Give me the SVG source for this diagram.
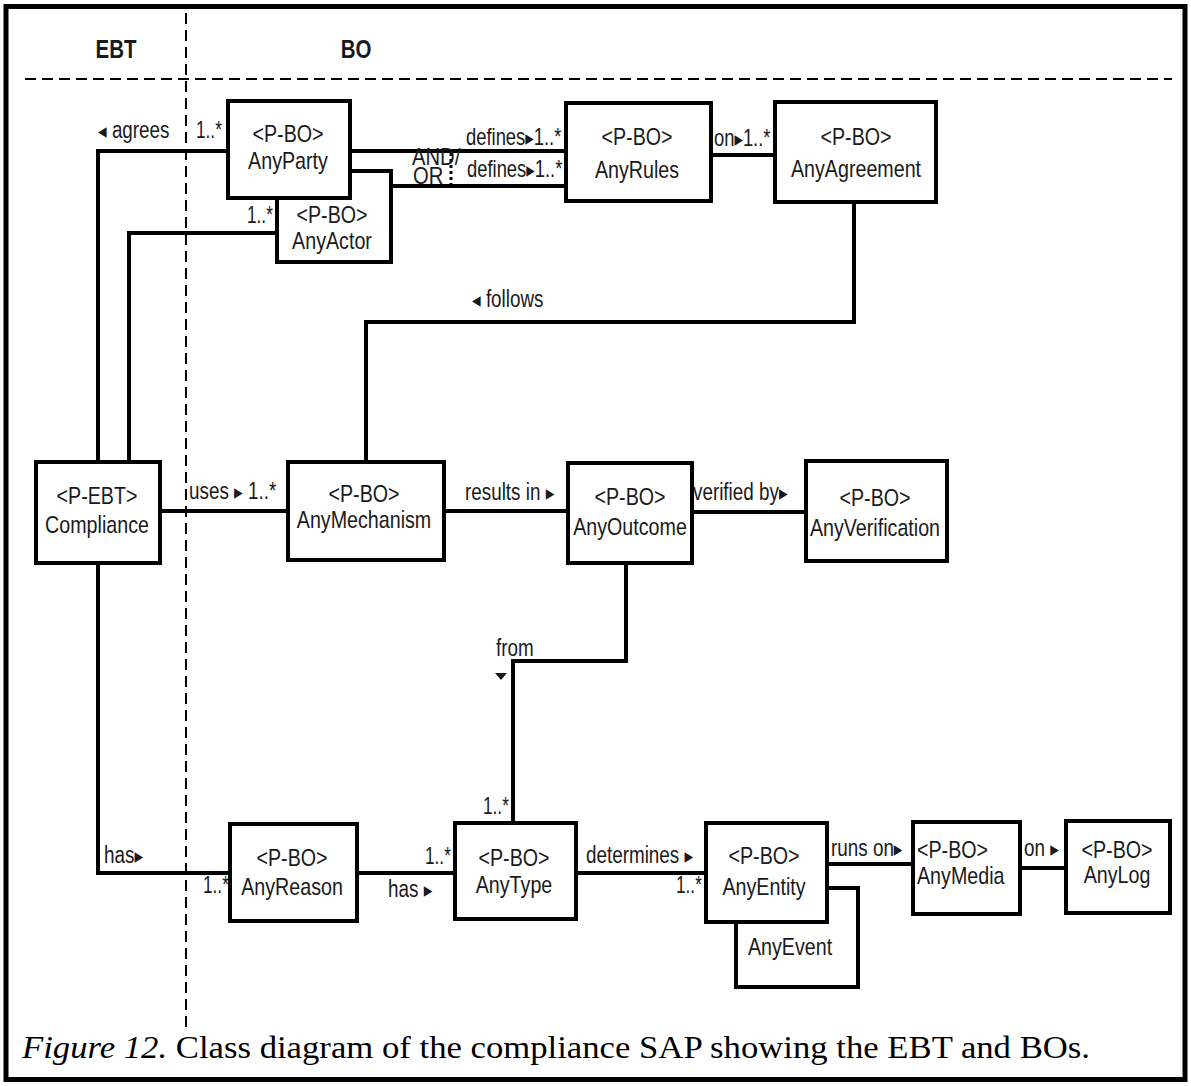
<svg xmlns="http://www.w3.org/2000/svg" width="1191" height="1086" viewBox="0 0 1191 1086">
  <style>
    .box { fill: #fff; stroke: #000; stroke-width: 4; }
    .conn { fill: none; stroke: #000; stroke-width: 4; }
    .guide { fill: none; stroke: #000; stroke-width: 2; stroke-dasharray: 11 6; }
    /* narrow sans look: regular sans squeezed horizontally via transform */
    .t { font-family: "Liberation Sans", Arial, sans-serif; font-size: 24px; fill: #1a1a1a; text-anchor: middle; }
    .ts { font-family: "Liberation Sans", Arial, sans-serif; font-size: 24px; fill: #1a1a1a; }
    .lbl { font-family: "Liberation Sans", Arial, "DejaVu Sans", sans-serif; font-size: 23px; fill: #1a1a1a; }
    .ar { font-family: "DejaVu Sans", sans-serif; font-size: 21px; }
    .hdr { font-family: "Liberation Sans", Arial, sans-serif; font-size: 25px; font-weight: bold; fill: #1a1a1a; text-anchor: middle; }
    .cap { font-family: "Liberation Serif", "Times New Roman", serif; font-size: 31px; fill: #000; }
  </style>

  <rect x="0" y="0" width="1191" height="1086" fill="#fff"/>
  <!-- frame -->
  <rect x="6" y="6.5" width="1179" height="1073" fill="none" stroke="#000" stroke-width="5"/>

  <!-- swimlane guides -->
  <g id="lanes">
    <line class="guide" x1="25" y1="79" x2="1172" y2="79"/>
    <line class="guide" x1="186" y1="13" x2="186" y2="1028"/>
    <text class="hdr" transform="translate(116 58) scale(0.82 1)">EBT</text>
    <text class="hdr" transform="translate(356 58) scale(0.82 1)">BO</text>
  </g>

  <!-- connectors -->
  <g id="connectors">
    <polyline class="conn" points="228,151 98,151 98,462"/>
    <polyline class="conn" points="277,233 129,233 129,462"/>
    <line class="conn" x1="350" y1="151" x2="566" y2="151"/>
    <line class="conn" x1="391" y1="186" x2="566" y2="186"/>
    <line x1="451" y1="153" x2="451" y2="185" stroke="#000" stroke-width="3" stroke-dasharray="3 3"/>
    <line class="conn" x1="711" y1="155" x2="775" y2="155"/>
    <polyline class="conn" points="854,202 854,322 366,322 366,462"/>
    <line class="conn" x1="160" y1="511" x2="288" y2="511"/>
    <line class="conn" x1="444" y1="511" x2="568" y2="511"/>
    <line class="conn" x1="692" y1="512" x2="806" y2="512"/>
    <polyline class="conn" points="626,563 626,661 513,661 513,823"/>
    <polyline class="conn" points="98,563 98,873 230,873"/>
    <line class="conn" x1="357" y1="873" x2="455" y2="873"/>
    <line class="conn" x1="576" y1="873" x2="706" y2="873"/>
    <line class="conn" x1="827" y1="864" x2="913" y2="864"/>
    <line class="conn" x1="1020" y1="868" x2="1066" y2="868"/>

    <text class="lbl" transform="translate(98 138) scale(0.82 1)"><tspan class="ar">◂</tspan> agrees</text>
    <text class="lbl" transform="translate(196 138) scale(0.75 1)">1..*</text>
    <text class="lbl" transform="translate(247 223) scale(0.75 1)">1..*</text>
    <text class="lbl" transform="translate(466 145) scale(0.8 1)">defines<tspan class="ar">▸</tspan>1..*</text>
    <text class="lbl" transform="translate(467 177) scale(0.8 1)">defines<tspan class="ar">▸</tspan>1..*</text>
    <text class="lbl" font-size="12" transform="translate(412 165) scale(0.88 1)">AND/</text>
    <text class="lbl" font-size="12" transform="translate(413 184) scale(0.88 1)">OR</text>
    <text class="lbl" transform="translate(714 146) scale(0.8 1)">on<tspan class="ar">▸</tspan>1..*</text>
    <text class="lbl" transform="translate(472 307) scale(0.82 1)"><tspan class="ar">◂</tspan> follows</text>
    <text class="lbl" transform="translate(189 499) scale(0.82 1)">uses <tspan class="ar">▸</tspan> 1..*</text>
    <text class="lbl" transform="translate(465 500) scale(0.82 1)">results in <tspan class="ar">▸</tspan></text>
    <text class="lbl" transform="translate(693 500) scale(0.82 1)">verified by<tspan class="ar">▸</tspan></text>
    <text class="lbl" transform="translate(496 656) scale(0.82 1)">from</text>
    <polygon points="495,673 507,673 501,680" fill="#1a1a1a"/>
    <text class="lbl" transform="translate(483 814) scale(0.75 1)">1..*</text>
    <text class="lbl" transform="translate(104 863) scale(0.82 1)">has<tspan class="ar">▸</tspan></text>
    <text class="lbl" transform="translate(203 893) scale(0.75 1)">1..*</text>
    <text class="lbl" transform="translate(425 864) scale(0.75 1)">1..*</text>
    <text class="lbl" transform="translate(388 897) scale(0.82 1)">has <tspan class="ar">▸</tspan></text>
    <text class="lbl" transform="translate(586 863) scale(0.82 1)">determines <tspan class="ar">▸</tspan></text>
    <text class="lbl" transform="translate(676 893) scale(0.75 1)">1..*</text>
    <text class="lbl" transform="translate(831 856) scale(0.82 1)">runs on<tspan class="ar">▸</tspan></text>
    <text class="lbl" transform="translate(1024 856) scale(0.82 1)">on <tspan class="ar">▸</tspan></text>
  </g>

  <!-- nodes -->
  <g id="AnyActor">
    <rect class="box" x="277" y="171" width="114" height="91"/>
    <text class="t" transform="translate(332 223) scale(0.82 1)">&lt;P-BO&gt;</text>
    <text class="t" transform="translate(332 249) scale(0.82 1)">AnyActor</text>
  </g>
  <g id="AnyParty">
    <rect class="box" x="228" y="101" width="122" height="97"/>
    <text class="t" transform="translate(288 142) scale(0.82 1)">&lt;P-BO&gt;</text>
    <text class="t" transform="translate(288 169) scale(0.82 1)">AnyParty</text>
  </g>
  <g id="AnyRules">
    <rect class="box" x="566" y="103" width="145" height="98"/>
    <text class="t" transform="translate(637 145) scale(0.82 1)">&lt;P-BO&gt;</text>
    <text class="t" transform="translate(637 178) scale(0.82 1)">AnyRules</text>
  </g>
  <g id="AnyAgreement">
    <rect class="box" x="775" y="102" width="161" height="100"/>
    <text class="t" transform="translate(856 145) scale(0.82 1)">&lt;P-BO&gt;</text>
    <text class="t" transform="translate(856 177) scale(0.82 1)">AnyAgreement</text>
  </g>
  <g id="Compliance">
    <rect class="box" x="36" y="462" width="124" height="101"/>
    <text class="t" transform="translate(97 504) scale(0.82 1)">&lt;P-EBT&gt;</text>
    <text class="t" transform="translate(97 533) scale(0.82 1)">Compliance</text>
  </g>
  <g id="AnyMechanism">
    <rect class="box" x="288" y="462" width="156" height="98"/>
    <text class="t" transform="translate(364 502) scale(0.82 1)">&lt;P-BO&gt;</text>
    <text class="t" transform="translate(364 528) scale(0.82 1)">AnyMechanism</text>
  </g>
  <g id="AnyOutcome">
    <rect class="box" x="568" y="463" width="124" height="100"/>
    <text class="t" transform="translate(630 505) scale(0.82 1)">&lt;P-BO&gt;</text>
    <text class="t" transform="translate(630 535) scale(0.82 1)">AnyOutcome</text>
  </g>
  <g id="AnyVerification">
    <rect class="box" x="806" y="461" width="141" height="100"/>
    <text class="t" transform="translate(875 506) scale(0.82 1)">&lt;P-BO&gt;</text>
    <text class="t" transform="translate(875 536) scale(0.82 1)">AnyVerification</text>
  </g>
  <g id="AnyReason">
    <rect class="box" x="230" y="824" width="127" height="97"/>
    <text class="t" transform="translate(292 866) scale(0.82 1)">&lt;P-BO&gt;</text>
    <text class="t" transform="translate(292 895) scale(0.82 1)">AnyReason</text>
  </g>
  <g id="AnyType">
    <rect class="box" x="455" y="823" width="121" height="96"/>
    <text class="t" transform="translate(514 866) scale(0.82 1)">&lt;P-BO&gt;</text>
    <text class="t" transform="translate(514 893) scale(0.82 1)">AnyType</text>
  </g>
  <g id="AnyEvent">
    <rect class="box" x="736" y="888" width="122" height="99"/>
    <text class="t" transform="translate(790 955) scale(0.82 1)">AnyEvent</text>
  </g>
  <g id="AnyEntity">
    <rect class="box" x="706" y="823" width="121" height="99"/>
    <text class="t" transform="translate(764 864) scale(0.82 1)">&lt;P-BO&gt;</text>
    <text class="t" transform="translate(764 895) scale(0.82 1)">AnyEntity</text>
  </g>
  <g id="AnyMedia">
    <rect class="box" x="913" y="822" width="107" height="92"/>
    <text class="ts" transform="translate(917 858) scale(0.82 1)">&lt;P-BO&gt;</text>
    <text class="ts" transform="translate(917 884) scale(0.82 1)">AnyMedia</text>
  </g>
  <g id="AnyLog">
    <rect class="box" x="1066" y="821" width="104" height="92"/>
    <text class="t" transform="translate(1117 858) scale(0.82 1)">&lt;P-BO&gt;</text>
    <text class="t" transform="translate(1117 883) scale(0.82 1)">AnyLog</text>
  </g>

  <!-- caption -->
  <text class="cap" x="22" y="1058" textLength="1068" lengthAdjust="spacingAndGlyphs"><tspan font-style="italic">Figure 12.</tspan>  Class diagram of the compliance SAP showing the EBT and BOs.</text>
</svg>
